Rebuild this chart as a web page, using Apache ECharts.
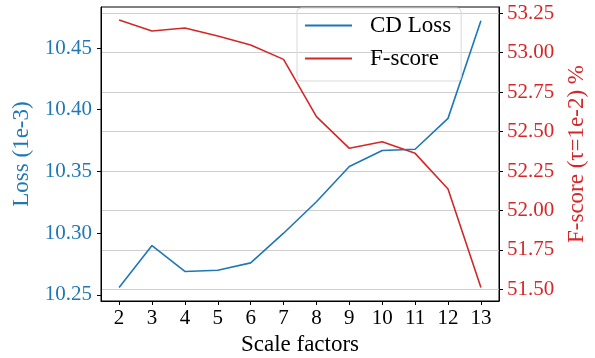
<!DOCTYPE html>
<html lang="en">
<head>
    <meta charset="UTF-8">
    <title>Scale factors</title>
    <script src="https://cdn.jsdelivr.net/npm/echarts@6/dist/echarts.min.js"></script>
    <style>
        html, body { margin: 0; padding: 0; background: #fff; }
        #chart { width: 595px; height: 358px; }
    </style>
</head>
<body>
<div id="chart"></div>
<script type="text/javascript">
    var scales = [2, 3, 4, 5, 6, 7, 8, 9, 10, 11, 12, 13];
    var cdLoss = [10.256, 10.290, 10.269, 10.270, 10.276, 10.300, 10.3255, 10.354, 10.367, 10.368, 10.393, 10.472];
    var fScore = [53.208, 53.138, 53.157, 53.106, 53.049, 52.958, 52.595, 52.394, 52.436, 52.362, 52.136, 51.512];
    var lossTicks = [10.25, 10.30, 10.35, 10.40, 10.45];
    var fTicks = [51.50, 51.75, 52.00, 52.25, 52.50, 52.75, 53.00, 53.25];

    var font = 'Liberation Serif';
    var blue = '#1f77b4';
    var red = '#d62728';

    function pairs(xs, ys) {
        var out = [];
        for (var i = 0; i < xs.length; i++) {
            out.push([xs[i], ys[i]]);
        }
        return out;
    }

    function fixed2(v) {
        return v.toFixed(2);
    }

    var chart = echarts.init(document.getElementById('chart'));
    var option = {
        animation: false,
        textStyle: { fontFamily: font },
        grid: {
            left: 101, right: 96, top: 7, bottom: 57,
            outerBoundsMode: 'none',
            containLabel: false,
            show: true,
            borderColor: '#000',
            borderWidth: 1
        },
        legend: {
            orient: 'vertical',
            left: 297,
            top: 8,
            padding: [6, 10, 11, 8],
            itemGap: 10,
            itemWidth: 47,
            itemHeight: 2,
            icon: 'rect',
            borderColor: '#d9d9d9',
            borderWidth: 1,
            borderRadius: 4,
            textStyle: { fontFamily: font, fontSize: 23, color: '#000', padding: [0, 0, 0, 13] },
            data: ['CD Loss', 'F-score']
        },
        xAxis: {
            type: 'value',
            min: 1.45,
            max: 13.55,
            name: 'Scale factors',
            nameLocation: 'middle',
            nameGap: 31,
            nameTextStyle: { fontFamily: font, fontSize: 23, color: '#000' },
            axisLine: { show: true, lineStyle: { color: '#000', width: 1 } },
            axisTick: { show: true, length: 4, customValues: scales, lineStyle: { color: '#000' } },
            axisLabel: { customValues: scales, fontFamily: font, fontSize: 21, color: '#000', margin: 7 },
            splitLine: { show: false }
        },
        yAxis: [
            {
                type: 'value',
                position: 'left',
                min: 10.2451,
                max: 10.4832,
                name: 'Loss (1e-3)',
                nameLocation: 'middle',
                nameRotate: 90,
                nameGap: 61,
                nameTextStyle: { fontFamily: font, fontSize: 23, color: blue },
                axisLine: { show: true, lineStyle: { color: '#000', width: 1 } },
                axisTick: { show: true, length: 4, customValues: lossTicks, lineStyle: { color: '#000' } },
                axisLabel: {
                    customValues: lossTicks, fontFamily: font, fontSize: 21, color: blue, margin: 9,
                    formatter: fixed2
                },
                splitLine: { show: false }
            },
            {
                type: 'value',
                position: 'right',
                min: 51.426,
                max: 53.29,
                name: 'F-score (\u03c4=1e-2) %',
                nameLocation: 'middle',
                nameRotate: 90,
                nameGap: 60,
                nameTextStyle: { fontFamily: font, fontSize: 23, color: red },
                axisLine: { show: true, lineStyle: { color: '#000', width: 1 } },
                axisTick: { show: true, length: 4, customValues: fTicks, lineStyle: { color: '#000' } },
                axisLabel: {
                    customValues: fTicks, fontFamily: font, fontSize: 21, color: red, margin: 8,
                    formatter: fixed2
                },
                splitLine: { show: true, lineStyle: { color: '#cfcfcf', width: 1 } }
            }
        ],
        series: [
            {
                name: 'CD Loss',
                type: 'line',
                yAxisIndex: 0,
                symbol: 'none',
                data: pairs(scales, cdLoss),
                lineStyle: { color: blue, width: 1.6 },
                itemStyle: { color: blue },
                z: 3
            },
            {
                name: 'F-score',
                type: 'line',
                yAxisIndex: 1,
                symbol: 'none',
                data: pairs(scales, fScore),
                lineStyle: { color: red, width: 1.6 },
                itemStyle: { color: red },
                z: 2
            }
        ]
    };
    chart.setOption(option);
</script>
</body>
</html>
